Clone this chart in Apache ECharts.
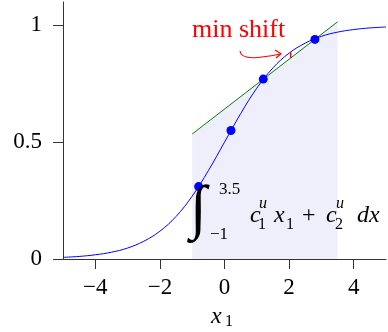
<!DOCTYPE html>
<html>
<head>
<meta charset="utf-8">
<script src="https://cdn.jsdelivr.net/npm/echarts@6/dist/echarts.min.js"></script>
<style>
  html, body { margin: 0; padding: 0; background: #fff; }
  #chart { width: 388px; height: 332px; }
</style>
</head>
<body>
<div id="chart"></div>
<script>
// values
const curveX = [-5, -4.5, -4, -3.5, -3, -2.5, -2, -1.5, -1, -0.5, 0, 0.5, 1, 1.5, 2, 2.5, 3, 3.5, 4, 4.5, 5]
const curveY = [0.007, 0.011, 0.018, 0.029, 0.047, 0.076, 0.119, 0.182, 0.269, 0.378, 0.5, 0.622, 0.731, 0.818, 0.881, 0.924, 0.953, 0.971, 0.982, 0.989, 0.993]
const pointX = [-0.8, 0.2, 1.2, 2.8]
const pointY = [0.31, 0.55, 0.77, 0.94]
const boundX = [-1, 3.5]
const boundY = [0.535, 1.015]
const shiftX = [2.05, 2.05]
const shiftY = [0.86, 0.885]
const xTicks = [-4, -2, 0, 2, 4]
const yTicks = [0, 0.5, 1]

const zip = (xs, ys) => xs.map((x, i) => [x, ys[i]])

const serif = 'Liberation Serif'
const axisColor = '#333'
const blue = '#0000ff'
const green = '#008000'
const red = '#ff0000'

const chart = echarts.init(document.getElementById('chart'))

const mathText = (x, y, text, size, italic, color) => ({
  type: 'text',
  x: x,
  y: y,
  z: 100,
  style: {
    text: text,
    fill: color || '#000',
    fontFamily: serif,
    fontSize: size,
    fontStyle: italic ? 'italic' : 'normal',
    verticalAlign: 'middle',
    align: 'left'
  }
})

chart.setOption({
  animation: false,
  grid: { left: 63, right: 2, top: 2, bottom: 73 },
  xAxis: {
    type: 'value',
    min: -5,
    max: 5,
    axisLine: { onZero: false, lineStyle: { color: axisColor, width: 1 } },
    axisTick: { customValues: xTicks, length: 10, lineStyle: { color: axisColor } },
    axisLabel: {
      customValues: xTicks,
      margin: 17,
      color: '#000',
      fontFamily: serif,
      fontSize: 23,
      formatter: v => String(v).replace('-', '\u2212')
    },
    splitLine: { show: false }
  },
  yAxis: {
    type: 'value',
    min: 0,
    max: 1.1,
    axisLine: { show: true, onZero: false, lineStyle: { color: axisColor, width: 1 } },
    axisTick: { show: true, customValues: yTicks, length: 10, lineStyle: { color: axisColor } },
    axisLabel: {
      customValues: yTicks,
      margin: 21,
      color: '#000',
      fontFamily: serif,
      fontSize: 23
    },
    splitLine: { show: false }
  },
  series: [
    {
      // shaded area under the linear bound
      type: 'line',
      data: zip(boundX, boundY),
      symbol: 'none',
      lineStyle: { width: 0 },
      areaStyle: { color: '#efeffc', opacity: 1 },
      z: 1
    },
    {
      type: 'line',
      data: zip(curveX, curveY),
      symbol: 'none',
      smooth: 0.4,
      lineStyle: { color: blue, width: 1 },
      z: 2
    },
    {
      type: 'line',
      data: zip(boundX, boundY),
      symbol: 'none',
      lineStyle: { color: green, width: 1 },
      z: 3
    },
    {
      type: 'line',
      data: zip(shiftX, shiftY),
      symbol: 'none',
      lineStyle: { color: red, width: 1.5 },
      z: 4
    },
    {
      type: 'scatter',
      data: zip(pointX, pointY),
      symbolSize: 9,
      itemStyle: { color: blue, opacity: 1 },
      z: 5
    }
  ],
  graphic: [
    mathText(192, 30, 'min shift', 26, false, red),
    {
      type: 'bezierCurve',
      shape: { x1: 240, y1: 51, cpx1: 241, cpy1: 61, cpx2: 260, cpy2: 58, x2: 280, y2: 54 },
      style: { stroke: red, lineWidth: 1.2, fill: 'none' }
    },
    {
      type: 'polyline',
      shape: { points: [[275, 50], [281, 53.8], [276, 58]] },
      style: { stroke: red, lineWidth: 1.2, fill: 'none' }
    },
    mathText(190, 211, '\u222b', 60, false),
    mathText(219, 190, '3.5', 17, false),
    mathText(210, 235, '\u22121', 17, false),
    mathText(250, 216, 'c', 24, true),
    mathText(259, 204, 'u', 16, true),
    mathText(258, 225, '1', 16, false),
    mathText(274, 216, 'x', 24, true),
    mathText(286, 225, '1', 16, false),
    mathText(302, 216, '+', 24, false),
    mathText(326, 216, 'c', 24, true),
    mathText(336, 204, 'u', 16, true),
    mathText(335, 225, '2', 16, false),
    mathText(357, 216, 'dx', 24, true),
    mathText(211, 317, 'x', 24, true),
    mathText(225, 322, '1', 16, false)
  ]
})

window.addEventListener('resize', () => {
  chart.resize()
})
</script>
</body>
</html>
